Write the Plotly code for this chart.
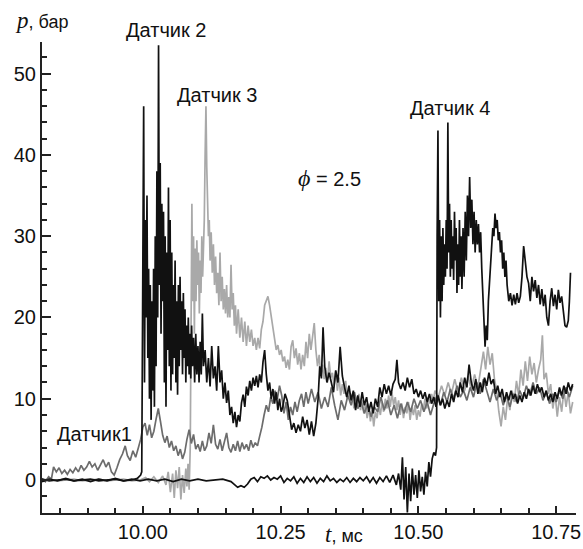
import plotly.graph_objects as go

# (t [ms], p [bar]) readings for each sensor
sensor1 = [
    (9.817, 0.2), (9.823, -0.2), (9.829, 0.4), (9.834, 0.1), (9.838, 1.6), (9.843, 1.0), (9.848, 1.5),
    (9.853, 0.8), (9.858, 1.2), (9.863, 0.7), (9.868, 1.3), (9.873, 0.9), (9.878, 1.5), (9.883, 1.0),
    (9.888, 1.8), (9.893, 1.2), (9.898, 1.6), (9.903, 2.3), (9.908, 1.6), (9.913, 2.0), (9.918, 1.2),
    (9.923, 1.8), (9.928, 2.5), (9.933, 1.6), (9.938, 2.2), (9.943, 1.0), (9.948, 0.6), (9.953, 1.5),
    (9.958, 2.5), (9.963, 3.2), (9.968, 4.2), (9.972, 3.0), (9.977, 2.4), (9.982, 3.6), (9.987, 2.8),
    (9.992, 4.0), (9.996, 5.0), (10.000, 6.5), (10.004, 7.0), (10.008, 5.5), (10.012, 6.8), (10.016, 5.2),
    (10.020, 6.0), (10.024, 7.5), (10.028, 8.8), (10.032, 7.2), (10.036, 5.5), (10.040, 4.6), (10.044, 5.4),
    (10.048, 4.0), (10.052, 4.8), (10.056, 3.6), (10.060, 4.2), (10.064, 3.0), (10.068, 3.8), (10.072, 2.6),
    (10.076, 3.4), (10.080, 5.0), (10.084, 6.2), (10.088, 4.5), (10.092, 5.6), (10.096, 3.8), (10.100, 4.4),
    (10.104, 3.5), (10.108, 4.8), (10.112, 3.6), (10.116, 4.2), (10.120, 5.8), (10.124, 4.5), (10.128, 6.8),
    (10.132, 4.4), (10.136, 3.8), (10.140, 5.0), (10.144, 3.6), (10.148, 4.6), (10.152, 5.8), (10.156, 4.0),
    (10.160, 3.4), (10.164, 4.4), (10.168, 3.6), (10.172, 4.8), (10.176, 3.5), (10.180, 4.6), (10.184, 3.8),
    (10.188, 4.4), (10.192, 3.6), (10.196, 4.9), (10.200, 4.0), (10.204, 4.6), (10.208, 4.2), (10.212, 5.4),
    (10.216, 6.5), (10.220, 8.0), (10.224, 9.2), (10.228, 8.4), (10.232, 10.2), (10.236, 9.4), (10.240, 11.0),
    (10.244, 10.0), (10.248, 11.6), (10.252, 10.4), (10.256, 8.2), (10.260, 9.6), (10.264, 7.4), (10.268, 9.0),
    (10.272, 8.0), (10.276, 9.6), (10.280, 8.4), (10.284, 9.8), (10.288, 10.6), (10.292, 9.0), (10.296, 10.8),
    (10.300, 9.4), (10.306, 11.2), (10.312, 9.6), (10.318, 10.8), (10.324, 8.8), (10.330, 10.2), (10.336, 9.0),
    (10.342, 11.4), (10.348, 9.2), (10.354, 7.4), (10.360, 9.8), (10.366, 8.6), (10.372, 10.4), (10.378, 9.2),
    (10.384, 10.8), (10.390, 8.8), (10.396, 9.6), (10.402, 8.2), (10.408, 9.4), (10.414, 7.8), (10.420, 9.0),
    (10.426, 8.4), (10.432, 10.2), (10.438, 8.6), (10.444, 9.8), (10.450, 8.0), (10.456, 9.2), (10.462, 7.6),
    (10.468, 9.4), (10.474, 8.2), (10.480, 9.6), (10.486, 8.4), (10.492, 10.0), (10.498, 8.8), (10.504, 9.8),
    (10.510, 8.4), (10.516, 9.6), (10.522, 8.0), (10.528, 9.4), (10.534, 10.4), (10.540, 9.2), (10.546, 10.8),
    (10.552, 9.6), (10.558, 11.2), (10.564, 10.0), (10.570, 11.6), (10.576, 10.2), (10.582, 11.0), (10.588, 9.8),
    (10.594, 11.4), (10.600, 10.2), (10.606, 12.0), (10.612, 10.6), (10.618, 12.4), (10.624, 11.0), (10.630, 9.6),
    (10.636, 11.2), (10.642, 9.8), (10.648, 10.8), (10.654, 9.2), (10.660, 10.4), (10.666, 9.0), (10.672, 10.6),
    (10.678, 9.6), (10.684, 11.0), (10.690, 10.0), (10.696, 11.6), (10.702, 10.4), (10.708, 12.0), (10.714, 10.6),
    (10.720, 11.4), (10.726, 9.8), (10.732, 10.8), (10.738, 9.4), (10.744, 10.6), (10.750, 9.6), (10.756, 11.0),
    (10.762, 10.0), (10.768, 11.4), (10.774, 10.2), (10.780, 11.6),
]

sensor2 = [
    (9.817, 0.1), (9.830, -0.1), (9.845, 0.0), (9.860, 0.1), (9.875, -0.1), (9.890, 0.0), (9.905, 0.1),
    (9.920, -0.1), (9.935, 0.0), (9.950, 0.1), (9.965, -0.1), (9.980, 0.0), (9.990, 0.2), (9.996, 0.6),
    (9.998, 1.0), (10.000, 30.0), (10.0015, 46.0), (10.003, 12.0), (10.0045, 32.0), (10.006, 20.0),
    (10.0075, 35.0), (10.009, 15.0), (10.0105, 26.0), (10.012, 10.0), (10.0135, 24.0), (10.015, 7.4),
    (10.0165, 22.0), (10.018, 11.0), (10.0195, 26.0), (10.021, 9.0), (10.0225, 30.0), (10.024, 14.0),
    (10.0255, 38.0), (10.027, 20.0), (10.0285, 53.5), (10.030, 24.0), (10.0315, 39.0), (10.033, 18.0),
    (10.0345, 34.0), (10.036, 22.0), (10.0375, 33.0), (10.039, 12.0), (10.0405, 30.0), (10.042, 9.0),
    (10.0435, 28.0), (10.045, 16.0), (10.0465, 36.0), (10.048, 14.0), (10.0495, 32.0), (10.051, 11.0),
    (10.0525, 28.0), (10.054, 13.0), (10.0555, 24.0), (10.057, 15.0), (10.0585, 27.0), (10.060, 12.0),
    (10.0615, 22.0), (10.063, 10.5), (10.0645, 24.0), (10.066, 14.0), (10.0675, 25.0), (10.069, 16.0),
    (10.0705, 22.0), (10.072, 13.0), (10.0735, 23.0), (10.075, 15.0), (10.0765, 21.0), (10.078, 12.0),
    (10.0795, 19.0), (10.081, 14.0), (10.0825, 20.0), (10.084, 13.0), (10.0855, 18.0), (10.087, 12.5),
    (10.0885, 19.0), (10.090, 14.0), (10.092, 17.5), (10.094, 12.0), (10.096, 18.0), (10.098, 13.0),
    (10.100, 16.5), (10.102, 12.0), (10.104, 17.0), (10.106, 13.0), (10.108, 20.5), (10.110, 14.0),
    (10.113, 16.0), (10.116, 12.0), (10.119, 15.0), (10.122, 11.5), (10.125, 16.5), (10.128, 12.5),
    (10.131, 14.0), (10.134, 11.0), (10.137, 16.5), (10.140, 12.0), (10.143, 13.5), (10.146, 10.0),
    (10.149, 12.0), (10.152, 9.5), (10.155, 11.0), (10.158, 8.0), (10.161, 9.0), (10.164, 7.0),
    (10.167, 8.4), (10.170, 6.5), (10.173, 8.0), (10.176, 7.2), (10.179, 9.5), (10.182, 10.5),
    (10.185, 9.0), (10.188, 11.5), (10.191, 10.4), (10.194, 12.2), (10.197, 11.0), (10.200, 12.6),
    (10.203, 11.6), (10.206, 12.8), (10.209, 11.4), (10.212, 13.0), (10.215, 12.0), (10.218, 14.5),
    (10.221, 16.0), (10.224, 13.0), (10.227, 11.0), (10.230, 12.0), (10.233, 10.0), (10.236, 11.2),
    (10.239, 9.4), (10.242, 10.8), (10.245, 8.6), (10.248, 10.0), (10.251, 8.4), (10.254, 9.0),
    (10.258, 10.6), (10.262, 9.8), (10.266, 8.0), (10.270, 6.2), (10.274, 7.0), (10.278, 5.8),
    (10.282, 6.8), (10.286, 6.0), (10.290, 7.8), (10.294, 6.4), (10.298, 7.4), (10.302, 5.6),
    (10.306, 7.2), (10.310, 5.4), (10.314, 7.0), (10.318, 10.0), (10.321, 14.0), (10.324, 12.5),
    (10.327, 18.8), (10.330, 14.0), (10.334, 12.0), (10.338, 13.2), (10.342, 12.0), (10.346, 10.8),
    (10.350, 13.5), (10.354, 12.0), (10.358, 16.4), (10.362, 12.8), (10.366, 11.4), (10.370, 10.2),
    (10.374, 11.6), (10.378, 9.8), (10.382, 11.0), (10.386, 8.6), (10.390, 10.4), (10.394, 9.0),
    (10.398, 10.8), (10.402, 9.2), (10.406, 10.2), (10.410, 8.4), (10.414, 9.6), (10.418, 8.2),
    (10.422, 10.0), (10.426, 9.0), (10.430, 11.4), (10.434, 10.2), (10.438, 11.8), (10.442, 10.6),
    (10.446, 11.6), (10.450, 10.4), (10.454, 11.8), (10.458, 12.4), (10.461, 14.8), (10.464, 12.0),
    (10.468, 11.2), (10.472, 12.0), (10.476, 11.0), (10.480, 12.6), (10.484, 11.4), (10.488, 12.4),
    (10.492, 10.6), (10.496, 11.2), (10.500, 10.2), (10.504, 11.0), (10.508, 10.0), (10.512, 10.8),
    (10.516, 9.6), (10.520, 10.6), (10.524, 9.4), (10.528, 10.2), (10.532, 9.0), (10.536, 10.4),
    (10.540, 9.2), (10.544, 10.0), (10.548, 8.8), (10.552, 9.8), (10.556, 9.0), (10.560, 10.6),
    (10.564, 9.6), (10.568, 11.0), (10.572, 10.2), (10.576, 12.0), (10.580, 10.8), (10.584, 12.6),
    (10.588, 11.4), (10.592, 14.2), (10.596, 12.0), (10.600, 11.0), (10.604, 12.4), (10.608, 10.6),
    (10.612, 12.0), (10.616, 10.8), (10.620, 12.6), (10.624, 11.6), (10.628, 13.2), (10.632, 11.8),
    (10.636, 12.4), (10.640, 10.6), (10.644, 11.6), (10.648, 10.2), (10.652, 11.2), (10.656, 9.6),
    (10.660, 10.8), (10.664, 9.8), (10.668, 11.0), (10.672, 10.0), (10.676, 10.6), (10.680, 9.4),
    (10.684, 10.4), (10.688, 9.6), (10.692, 10.8), (10.696, 10.0), (10.700, 11.2), (10.704, 10.4),
    (10.708, 11.6), (10.712, 10.6), (10.716, 11.8), (10.720, 10.8), (10.724, 11.4), (10.728, 10.2),
    (10.732, 11.0), (10.736, 9.8), (10.740, 10.6), (10.744, 9.6), (10.748, 10.8), (10.752, 10.0),
    (10.756, 11.4), (10.760, 10.4), (10.764, 11.6), (10.768, 10.6), (10.772, 12.0), (10.776, 11.0),
    (10.780, 11.8),
]

sensor3 = [
    (9.817, 0.0), (9.830, 0.1), (9.845, -0.1), (9.860, 0.0), (9.875, 0.1), (9.890, -0.1), (9.905, 0.0),
    (9.920, 0.1), (9.935, -0.1), (9.950, 0.0), (9.965, 0.1), (9.980, -0.1), (9.995, 0.0), (10.005, 0.3),
    (10.012, -0.2), (10.020, 0.4), (10.028, -0.3), (10.036, 0.5), (10.042, -0.6), (10.046, 1.0),
    (10.050, -1.5), (10.054, 0.8), (10.057, -2.2), (10.060, 1.2), (10.063, -1.0), (10.066, 1.6),
    (10.069, -2.4), (10.072, 0.6), (10.075, -1.6), (10.078, 1.4), (10.080, -0.8), (10.082, 2.0),
    (10.084, -1.2), (10.086, 4.0), (10.0875, 20.0), (10.089, 34.0), (10.0905, 22.0), (10.092, 30.0),
    (10.0935, 18.0), (10.095, 28.5), (10.0965, 22.0), (10.098, 29.5), (10.0995, 24.0), (10.101, 28.0),
    (10.1025, 20.5), (10.104, 27.0), (10.1055, 23.0), (10.107, 30.0), (10.1085, 25.0), (10.110, 29.0),
    (10.1115, 32.0), (10.113, 40.0), (10.1145, 46.0), (10.116, 38.5), (10.1175, 33.0), (10.119, 30.0),
    (10.1205, 32.0), (10.122, 27.0), (10.124, 30.5), (10.126, 25.5), (10.128, 29.0), (10.130, 24.0),
    (10.132, 27.5), (10.134, 23.0), (10.136, 25.5), (10.138, 21.5), (10.140, 28.0), (10.142, 22.0),
    (10.144, 25.0), (10.146, 21.0), (10.148, 23.5), (10.150, 20.5), (10.152, 24.0), (10.154, 20.0),
    (10.156, 22.5), (10.158, 20.0), (10.160, 26.5), (10.162, 21.0), (10.164, 23.0), (10.166, 19.0),
    (10.168, 21.5), (10.170, 18.0), (10.173, 21.0), (10.176, 17.5), (10.179, 20.0), (10.182, 17.0),
    (10.185, 19.5), (10.188, 16.5), (10.191, 19.0), (10.194, 17.0), (10.197, 18.5), (10.200, 16.5),
    (10.203, 17.5), (10.206, 16.0), (10.209, 17.5), (10.212, 16.2), (10.215, 18.5), (10.218, 19.5),
    (10.221, 21.5), (10.224, 22.0), (10.227, 22.6), (10.230, 21.5), (10.233, 20.0), (10.236, 18.5),
    (10.239, 17.0), (10.242, 16.0), (10.245, 16.6), (10.248, 15.4), (10.251, 16.0), (10.254, 14.6),
    (10.257, 15.2), (10.260, 13.8), (10.263, 14.8), (10.266, 13.6), (10.269, 16.4), (10.272, 17.2),
    (10.275, 15.0), (10.278, 16.2), (10.281, 14.2), (10.284, 15.6), (10.287, 13.6), (10.290, 15.4),
    (10.293, 14.0), (10.296, 17.0), (10.299, 15.0), (10.302, 18.0), (10.305, 16.0), (10.308, 17.6),
    (10.311, 19.3), (10.314, 16.0), (10.317, 14.0), (10.320, 15.4), (10.323, 12.8), (10.326, 14.2),
    (10.329, 12.4), (10.332, 13.8), (10.335, 12.0), (10.338, 14.6), (10.341, 12.6), (10.344, 13.2),
    (10.347, 11.6), (10.350, 13.4), (10.353, 11.0), (10.356, 12.6), (10.359, 10.4), (10.362, 11.8),
    (10.365, 10.6), (10.368, 12.2), (10.371, 10.0), (10.374, 11.2), (10.377, 9.4), (10.380, 10.6),
    (10.383, 8.8), (10.386, 10.2), (10.389, 9.0), (10.392, 10.6), (10.395, 8.6), (10.398, 9.8),
    (10.401, 8.2), (10.404, 9.4), (10.407, 7.6), (10.410, 9.0), (10.413, 7.2), (10.416, 8.6),
    (10.419, 6.6), (10.422, 8.4), (10.425, 7.6), (10.428, 9.2), (10.431, 8.0), (10.434, 9.6),
    (10.437, 8.4), (10.440, 10.0), (10.443, 8.8), (10.446, 10.4), (10.449, 9.0), (10.452, 10.8),
    (10.455, 9.2), (10.458, 10.2), (10.461, 8.6), (10.464, 9.8), (10.467, 8.0), (10.470, 9.4),
    (10.473, 7.6), (10.476, 9.0), (10.479, 8.2), (10.482, 9.6), (10.485, 7.4), (10.488, 9.0),
    (10.491, 8.0), (10.494, 9.2), (10.497, 7.4), (10.500, 8.6), (10.503, 7.8), (10.506, 9.4),
    (10.509, 8.6), (10.512, 10.0), (10.515, 8.8), (10.518, 10.2), (10.521, 9.4), (10.524, 10.6),
    (10.527, 9.6), (10.530, 11.0), (10.536, 10.2), (10.542, 11.6), (10.548, 10.4), (10.554, 12.0),
    (10.560, 10.6), (10.566, 12.4), (10.572, 10.8), (10.578, 12.6), (10.584, 11.0), (10.590, 12.8),
    (10.596, 11.2), (10.602, 13.0), (10.608, 11.4), (10.614, 14.0), (10.618, 15.8), (10.622, 13.6),
    (10.626, 16.4), (10.630, 14.2), (10.634, 15.6), (10.638, 12.4), (10.642, 11.0), (10.646, 8.4),
    (10.650, 6.6), (10.654, 9.0), (10.658, 7.4), (10.662, 10.2), (10.666, 8.6), (10.670, 11.0),
    (10.674, 9.6), (10.678, 12.2), (10.682, 10.4), (10.686, 13.6), (10.690, 11.6), (10.694, 14.6),
    (10.698, 12.2), (10.702, 15.2), (10.706, 13.0), (10.710, 14.4), (10.714, 12.0), (10.718, 13.6),
    (10.722, 14.8), (10.725, 17.8), (10.728, 12.4), (10.732, 13.2), (10.736, 10.6), (10.740, 11.8),
    (10.744, 8.8), (10.748, 10.6), (10.752, 7.8), (10.756, 10.2), (10.760, 8.4), (10.764, 11.0),
    (10.768, 9.0), (10.772, 10.8), (10.776, 8.2), (10.780, 9.6),
]

sensor4 = [
    (9.817, -0.2), (9.830, 0.1), (9.845, -0.1), (9.860, 0.2), (9.875, -0.1), (9.890, 0.1), (9.905, -0.2),
    (9.920, 0.1), (9.935, -0.1), (9.950, 0.2), (9.965, -0.1), (9.980, 0.1), (9.995, -0.1), (10.010, 0.1),
    (10.025, -0.1), (10.040, 0.1), (10.055, -0.2), (10.070, 0.1), (10.085, -0.1), (10.100, 0.1),
    (10.115, -0.1), (10.130, 0.0), (10.145, 0.1), (10.160, -0.2), (10.166, -0.6), (10.172, -0.9),
    (10.178, -0.7), (10.184, -0.9), (10.190, -0.5), (10.196, 0.1), (10.202, 0.3), (10.208, -0.2),
    (10.214, 0.4), (10.220, 0.2), (10.226, 0.5), (10.232, 0.0), (10.238, 0.3), (10.244, 0.1),
    (10.250, 0.5), (10.256, -0.3), (10.262, 0.2), (10.268, -0.1), (10.274, 0.4), (10.280, -0.4),
    (10.286, 0.2), (10.292, -0.3), (10.298, 0.4), (10.304, -0.2), (10.310, 0.3), (10.316, -0.4),
    (10.322, 0.2), (10.328, -0.2), (10.334, 0.5), (10.340, -0.1), (10.346, 0.2), (10.352, -0.3),
    (10.358, 0.1), (10.364, -0.2), (10.370, 0.3), (10.376, -0.3), (10.382, 0.2), (10.388, -0.2),
    (10.394, 0.3), (10.400, -0.1), (10.406, 0.4), (10.412, -0.3), (10.418, 0.3), (10.424, -0.4),
    (10.430, 0.3), (10.436, -0.2), (10.442, 0.5), (10.448, -0.3), (10.454, 0.6), (10.460, -0.6),
    (10.464, 0.8), (10.468, -1.2), (10.471, 2.8), (10.474, -2.4), (10.477, 1.6), (10.480, -4.0),
    (10.483, 0.8), (10.486, -2.6), (10.489, 1.4), (10.492, -1.8), (10.495, 0.6), (10.498, -2.2),
    (10.501, 1.2), (10.504, -1.4), (10.507, 0.4), (10.510, -1.8), (10.513, 1.0), (10.516, -0.8),
    (10.519, 2.2), (10.522, 0.4), (10.525, 2.6), (10.528, 3.4), (10.531, 3.0), (10.533, 4.0),
    (10.534, 30.0), (10.5355, 43.0), (10.537, 22.0), (10.5385, 32.0), (10.540, 20.0), (10.5415, 30.0),
    (10.543, 22.0), (10.5445, 31.0), (10.546, 24.0), (10.5475, 29.0), (10.549, 25.0), (10.5505, 32.0),
    (10.552, 26.0), (10.5535, 44.0), (10.555, 28.0), (10.5565, 34.0), (10.558, 25.0), (10.5595, 32.0),
    (10.561, 26.0), (10.5625, 30.0), (10.564, 24.6), (10.5655, 33.0), (10.567, 27.0), (10.5685, 31.0),
    (10.570, 23.0), (10.5715, 29.0), (10.573, 24.0), (10.5745, 32.0), (10.576, 25.0), (10.5775, 30.0),
    (10.579, 23.5), (10.581, 31.0), (10.583, 25.0), (10.585, 33.0), (10.587, 27.0), (10.589, 35.0),
    (10.591, 30.0), (10.593, 37.3), (10.595, 31.0), (10.597, 34.5), (10.599, 29.0), (10.601, 33.0),
    (10.603, 28.0), (10.605, 32.0), (10.607, 29.0), (10.609, 31.5), (10.611, 28.0), (10.613, 30.5),
    (10.615, 26.0), (10.617, 22.0), (10.619, 18.5), (10.621, 16.4), (10.623, 19.0), (10.625, 17.2),
    (10.627, 22.0), (10.629, 24.5), (10.631, 26.0), (10.633, 29.0), (10.635, 31.0), (10.637, 30.0),
    (10.639, 32.8), (10.641, 31.0), (10.643, 32.0), (10.645, 29.5), (10.647, 30.5), (10.649, 28.0),
    (10.651, 29.5), (10.653, 26.0), (10.655, 28.0), (10.657, 25.0), (10.659, 27.0), (10.661, 24.0),
    (10.664, 22.0), (10.667, 23.0), (10.670, 21.5), (10.673, 22.8), (10.676, 21.6), (10.679, 23.0),
    (10.682, 21.8), (10.685, 22.6), (10.688, 25.0), (10.691, 28.8), (10.694, 27.0), (10.697, 25.0),
    (10.700, 24.2), (10.703, 22.0), (10.706, 25.0), (10.709, 23.2), (10.712, 24.6), (10.715, 22.4),
    (10.718, 24.0), (10.721, 21.6), (10.724, 23.5), (10.727, 21.4), (10.730, 22.8), (10.733, 20.0),
    (10.736, 19.0), (10.739, 22.0), (10.742, 23.6), (10.745, 21.4), (10.748, 22.8), (10.751, 21.0),
    (10.754, 23.4), (10.757, 21.8), (10.760, 22.6), (10.763, 20.4), (10.766, 19.0), (10.769, 18.8),
    (10.772, 19.6), (10.774, 22.0), (10.776, 25.5),
]

x_tick_vals = [10.0, 10.25, 10.5, 10.75]
x_tick_text = ["10.00", "10.25", "10.50", "10.75"]
y_tick_vals = [0, 10, 20, 30, 40, 50]

series = [
    ("Датчик 3", sensor3, "#a9a9a9"),
    ("Датчик 1", sensor1, "#6c6c6c"),
    ("Датчик 2", sensor2, "#111111"),
    ("Датчик 4", sensor4, "#111111"),
]

fig = go.Figure()
for name, data, color in series:
    t, p = zip(*data)
    fig.add_trace(go.Scatter(x=list(t), y=list(p), mode="lines", name=name,
                             line=dict(color=color, width=1.7), showlegend=False))

FONT = "Liberation Sans, Arial, sans-serif"
IT = "font-family:'Liberation Serif';font-style:italic"

fig.update_layout(
    width=583, height=549,
    margin=dict(l=42, r=7, t=42, b=36),
    paper_bgcolor="white", plot_bgcolor="white",
    font=dict(family=FONT, color="#111111"),
    xaxis=dict(range=[9.817, 10.786], tickvals=x_tick_vals, ticktext=x_tick_text, automargin=False,
               ticks="inside", ticklen=7, tickwidth=1.5, tickcolor="#222222",
               showline=True, linewidth=2, linecolor="#222222", showgrid=False, zeroline=False,
               tickfont=dict(size=20, family=FONT),
               minor=dict(dtick=0.05, tick0=10.0, ticks="inside", ticklen=5, tickwidth=1.5,
                          tickcolor="#222222", showgrid=False)),
    yaxis=dict(range=[-4.06, 53.9], tickvals=y_tick_vals, automargin=False,
               ticks="inside", ticklen=9, tickwidth=1.5, tickcolor="#222222",
               showline=True, linewidth=2, linecolor="#222222", showgrid=False, zeroline=False,
               tickfont=dict(size=20, family=FONT),
               minor=dict(dtick=2, tick0=0, ticks="inside", ticklen=5, tickwidth=1.5,
                          tickcolor="#222222", showgrid=False)),
)

ann = dict(showarrow=False, font=dict(size=20, family=FONT, color="#111111"), yanchor="middle")
fig.add_annotation(x=10.0417, y=1.0255, xref="x", yref="paper", text="Датчик 2", **ann)
fig.add_annotation(x=10.134, y=47.4, xref="x", yref="y", text="Датчик 3", **ann)
fig.add_annotation(x=10.557, y=45.8, xref="x", yref="y", text="Датчик 4", **ann)
fig.add_annotation(x=9.913, y=5.66, xref="x", yref="y", text="Датчик1", **ann)
fig.add_annotation(x=10.339, y=37.2, xref="x", yref="y",
                   text=f"<span style=\"{IT};font-size:24px\">ϕ</span> = 2.5", **ann)
fig.add_annotation(x=-0.0543, y=1.0446, xref="paper", yref="paper", xanchor="left", yanchor="middle",
                   text=f"<span style=\"{IT};font-size:23px\">p</span>, бар",
                   showarrow=False, font=dict(size=18, family=FONT, color="#111111"))
fig.add_annotation(x=0.526, y=-0.0446, xref="paper", yref="paper", xanchor="left", yanchor="middle",
                   text=f"<span style=\"{IT};font-size:23px\">t</span>, мс",
                   showarrow=False, font=dict(size=18, family=FONT, color="#111111"))

fig.write_html("out.html", config={"displayModeBar": False},
               post_script="document.body.style.margin='0';document.body.style.padding='0';"
                           "document.body.style.overflow='hidden';")
